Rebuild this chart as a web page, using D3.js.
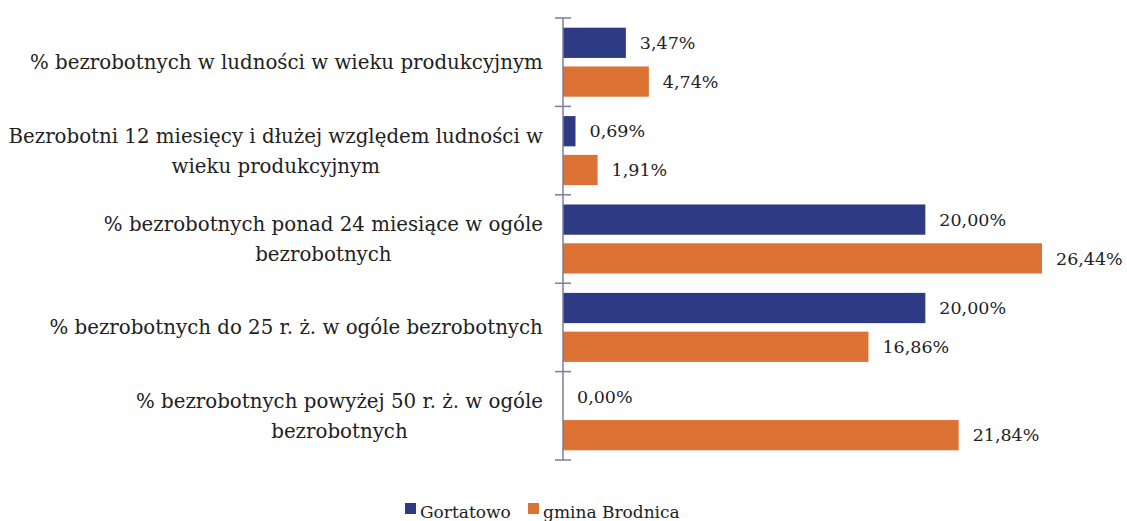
<!DOCTYPE html>
<html>
<head>
<meta charset="utf-8">
<script src="https://cdn.jsdelivr.net/npm/d3@7"></script>
<style>
  body { margin: 0; background: #fff; }
</style>
</head>
<body>
<svg id="chart" width="1127" height="521"></svg>
<script>
// categories (line breaks as in the picture)
const categories = [
  "% bezrobotnych w ludności w wieku produkcyjnym",
  "Bezrobotni 12 miesięcy i dłużej względem ludności w\nwieku produkcyjnym",
  "% bezrobotnych ponad 24 miesiące w ogóle\nbezrobotnych",
  "% bezrobotnych do 25 r. ż. w ogóle bezrobotnych",
  "% bezrobotnych powyżej 50 r. ż. w ogóle\nbezrobotnych"
];
const seriesNames = ["Gortatowo", "gmina Brodnica"];
const gortatowo = [3.47, 0.69, 20.00, 20.00, 0.00];
const brodnica = [4.74, 1.91, 26.44, 16.86, 21.84];
const colors = ["#2f3a85", "#dc7233"];

const font = "'DejaVu Serif', serif";
const svg = d3.select("#chart");
const margin = { left: 563, top: 18, bottom: 460 };

const x = d3.scaleLinear().domain([0, 26.44]).range([margin.left, 1042]);
const y = d3.scaleBand().domain(categories).range([margin.top, margin.bottom]).padding(0);
const inner = d3.scaleBand().domain(seriesNames).range([0, y.bandwidth()]).paddingInner(0.22).paddingOuter(0.25);

const rows = categories.map((c, i) => ({ cat: c, vals: [gortatowo[i], brodnica[i]] }));

// bars
const groups = svg.append("g").attr("class", "bars")
  .selectAll("g")
  .data(rows)
  .enter()
  .append("g")
  .attr("transform", d => "translate(0," + y(d.cat) + ")");

groups.selectAll("rect")
  .data(d => d.vals.map((v, j) => ({ v: v, s: seriesNames[j], j: j })))
  .enter()
  .append("rect")
  .attr("x", x(0))
  .attr("y", d => inner(d.s))
  .attr("width", d => x(d.v) - x(0))
  .attr("height", inner.bandwidth())
  .attr("fill", d => colors[d.j]);

groups.selectAll("text.val")
  .data(d => d.vals.map((v, j) => ({ v: v, s: seriesNames[j], j: j })))
  .enter()
  .append("text")
  .attr("class", "val")
  .attr("x", d => x(d.v) + 14)
  .attr("y", d => inner(d.s) + inner.bandwidth() / 2)
  .attr("dy", "0.35em")
  .attr("font-family", font)
  .attr("font-size", 17.5)
  .attr("fill", "#222")
  .text(d => d.v.toFixed(2).replace(".", ",") + "%");

// axis with ticks at band boundaries
const axisColor = "#7d7d9a";
const axis = svg.append("g").attr("class", "y axis");
axis.append("line")
  .attr("x1", x(0)).attr("x2", x(0))
  .attr("y1", margin.top).attr("y2", margin.bottom)
  .attr("stroke", axisColor).attr("stroke-width", 1.5);

const bounds = categories.map(c => y(c)).concat([y(categories[categories.length - 1]) + y.bandwidth()]);
axis.selectAll("line.tick")
  .data(bounds)
  .enter()
  .append("line")
  .attr("class", "tick")
  .attr("x1", x(0) - 8).attr("x2", x(0) + 8)
  .attr("y1", d => d).attr("y2", d => d)
  .attr("stroke", axisColor).attr("stroke-width", 1.5);

// category labels
const labels = svg.append("g").attr("class", "cat-labels")
  .selectAll("text")
  .data(categories)
  .enter()
  .append("text")
  .attr("text-anchor", "middle")
  .attr("font-family", font)
  .attr("font-size", 19.8)
  .attr("fill", "#222");

labels.each(function (d) {
  const lines = d.split("\n");
  const el = d3.select(this);
  const lh = 30;
  const cy = y(d) + y.bandwidth() / 2 - (lines.length - 1) * lh / 2;
  lines.forEach((l, i) => {
    el.append("tspan").attr("x", 0).attr("y", cy + i * lh).attr("dy", "0.35em").text(l);
  });
});

// right-align the block, center lines within it
labels.each(function () {
  const el = d3.select(this);
  const w = this.getBBox().width;
  const cx = 543 - w / 2;
  el.selectAll("tspan").attr("x", cx);
});

// legend
const legend = svg.append("g").attr("class", "legend");
const legX = [405, 528];
seriesNames.forEach((s, i) => {
  legend.append("rect")
    .attr("x", legX[i]).attr("y", 503)
    .attr("width", 11).attr("height", 11)
    .attr("fill", colors[i]);
  legend.append("text")
    .attr("x", legX[i] + 15).attr("y", 518)
    .attr("font-family", font)
    .attr("font-size", 17)
    .attr("fill", "#222")
    .text(s);
});
</script>
</body>
</html>
